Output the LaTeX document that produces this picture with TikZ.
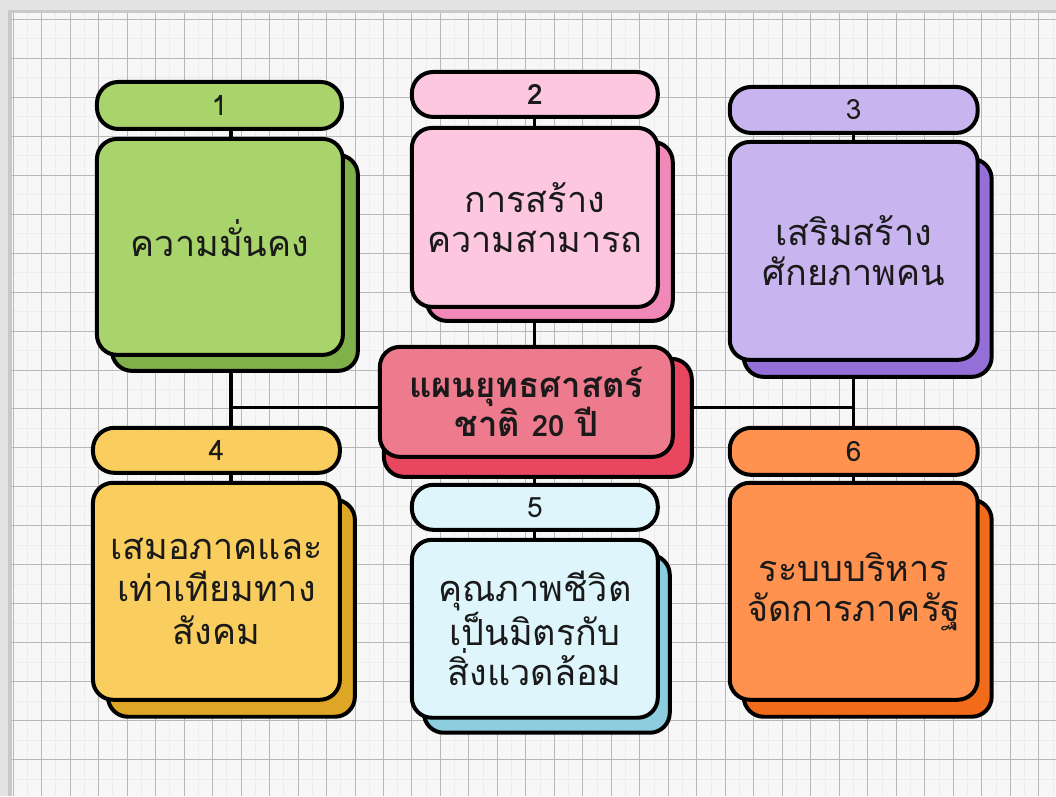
\documentclass[tikz,border=0pt]{standalone}
\usepackage{fontspec}
\newfontfamily\thaifont[Script=Thai]{Loma}
\definecolor{gmain}{HTML}{A9D46B}\definecolor{gshad}{HTML}{80B04A}
\definecolor{pmain}{HTML}{FCC7DF}\definecolor{pshad}{HTML}{F189B8}
\definecolor{umain}{HTML}{C8B4EE}\definecolor{ushad}{HTML}{946FD8}
\definecolor{ymain}{HTML}{F9CE5F}\definecolor{yshad}{HTML}{DDA624}
\definecolor{lmain}{HTML}{DDF5FB}\definecolor{lshad}{HTML}{8CCDE0}
\definecolor{omain}{HTML}{FE924E}\definecolor{oshad}{HTML}{F16B1A}
\definecolor{cmain}{HTML}{EE7B8D}\definecolor{cshad}{HTML}{E9465F}
\definecolor{paper}{HTML}{F7F7F7}
\definecolor{gridA}{HTML}{B8B8B8}
\definecolor{gridB}{HTML}{EDEDED}
\definecolor{ink}{HTML}{1A1A1A}
\pgfdeclarelayer{gridlayer}
\pgfdeclarelayer{linklayer}
\pgfsetlayers{gridlayer,linklayer,main}
\begin{document}
\begin{tikzpicture}[x=0.75pt,y=-0.75pt,
  boxstyle/.style={draw=black, line width=3pt, rounded corners=15pt, inner sep=0pt, align=center,
    text=ink, font=\thaifont\fontsize{27}{30}\selectfont},
  shadstyle/.style={draw=black, line width=3pt, rounded corners=15pt, inner sep=0pt},
  pillstyle/.style={draw=black, line width=3pt, rounded corners=16pt, inner sep=0pt,
    text=ink, font=\thaifont\fontsize{21}{24}\selectfont},
  linkstyle/.style={line width=2.4pt, draw=black},
  gridmaj/.style={draw=gridA, line width=0.55pt},
  gridmin/.style={draw=gridB, line width=0.4pt}]
\begin{pgfonlayer}{gridlayer}
  \fill[paper] (0,0) rectangle (1056,796);
  \foreach \x in {27.25,55.75,...,1056} \draw[gridmin] (\x,13) -- (\x,796);
  \foreach \y in {38.5,77.5,...,796} \draw[gridmin] (12,\y) -- (1056,\y);
  \foreach \x in {13,41.5,...,1056} \draw[gridmaj] (\x,13) -- (\x,796);
  \foreach \y in {19,58,...,796} \draw[gridmaj] (12,\y) -- (1056,\y);
  \fill[gray!22] (0,0) rectangle (1056,10);
  \fill[gray!22] (0,0) rectangle (8,796);
  \fill[gray!42] (8,10) rectangle (1056,13);
  \fill[gray!42] (8,10) rectangle (12,796);
\end{pgfonlayer}
\useasboundingbox (0,0) rectangle (1056,796);

% shadows
\node[shadstyle, fill=gshad, minimum width=184.5pt, minimum height=162pt] (s1) at (235,263) {};
\node[shadstyle, fill=pshad, minimum width=184.5pt, minimum height=134.25pt] (s2) at (550,231.5) {};
\node[shadstyle, fill=ushad, minimum width=186pt, minimum height=163.5pt] (s3) at (868,268) {};
\node[shadstyle, fill=yshad, minimum width=185.25pt, minimum height=162.75pt] (s4) at (231.5,608.5) {};
\node[shadstyle, fill=lshad, minimum width=184.5pt, minimum height=133.5pt] (s5) at (547,644) {};
\node[shadstyle, fill=oshad, minimum width=186pt, minimum height=162.75pt] (s6) at (868,608.5) {};
\node[shadstyle, fill=cshad, minimum width=231pt, minimum height=88.5pt] (cs) at (538,418) {};

% main boxes
\node[boxstyle, fill=gmain, minimum width=184.5pt, minimum height=162pt] (b1) at (220,247) {};
\node[text=ink, font=\thaifont\fontsize{27}{30}\selectfont] (t1) at (220,238) {ความมั่นคง};
\node[boxstyle, fill=pmain, minimum width=184.5pt, minimum height=134.25pt] (b2) at (535,217.5) {การสร้าง\\ความสามารถ};
\node[boxstyle, fill=umain, minimum width=186pt, minimum height=163.5pt] (b3) at (854,251) {เสริมสร้าง\\ศักยภาพคน};
\node[boxstyle, fill=ymain, minimum width=185.25pt, minimum height=162.75pt] (b4) at (216.5,591.5) {เสมอภาคและ\\[2pt]เท่าเทียมทาง\\[2pt]สังคม};
\node[boxstyle, fill=lmain, minimum width=184.5pt, minimum height=133.5pt] (b5) at (535,629) {คุณภาพชีวิต\\เป็นมิตรกับ\\สิ่งแวดล้อม};
\node[boxstyle, fill=omain, minimum width=186pt, minimum height=162.75pt] (b6) at (854,591.5) {ระบบบริหาร\\จัดการภาครัฐ};
\node[boxstyle, fill=cmain, minimum width=219.75pt, minimum height=82.5pt,
  font=\thaifont\bfseries\fontsize{26}{25}\selectfont] (c) at (526.5,402) {แผนยุทธศาสตร์\\ชาติ {\fontsize{22}{25}\selectfont 20} ปี};

% number pills
\node[pillstyle, fill=gmain, minimum width=183.75pt, minimum height=35.25pt] (p1) at (219.5,105.5) {1};
\node[pillstyle, fill=pmain, minimum width=184.5pt, minimum height=33.75pt, font=\thaifont\bfseries\fontsize{21}{24}\selectfont] (p2) at (535,94.5) {2};
\node[pillstyle, fill=umain, minimum width=186pt, minimum height=34.5pt] (p3) at (854,110) {3};
\node[pillstyle, fill=ymain, minimum width=185.25pt, minimum height=33.75pt] (p4) at (216.5,450.5) {4};
\node[pillstyle, fill=lmain, minimum width=184.5pt, minimum height=33.75pt] (p5) at (535,507.5) {5};
\node[pillstyle, fill=omain, minimum width=186pt, minimum height=35.25pt] (p6) at (854,451.5) {6};

\coordinate (v1) at (231,0);
\coordinate (hy) at (0,408);
\begin{pgfonlayer}{linklayer}
  \draw[linkstyle] (p1.south -| v1) -- (b1.north -| v1);
  \draw[linkstyle] (b1.south -| v1) -- (p4.north -| v1);
  \draw[linkstyle] (v1 |- hy) -- (b3.south |- hy);
  \draw[linkstyle] (p2.south) -- (b2.north);
  \draw[linkstyle] (b2.south) -- (b2.south |- c.north);
  \draw[linkstyle] (p3.south) -- (b3.north);
  \draw[linkstyle] (b3.south) -- (p6.north);
  \draw[linkstyle] (p6.south) -- (b6.north);
  \draw[linkstyle] (p5.north) -- (p5.north |- c.south);
  \draw[linkstyle] (p5.south) -- (b5.north);
  \draw[linkstyle] (p4.south -| v1) -- (b4.north -| v1);
\end{pgfonlayer}
\end{tikzpicture}
\end{document}
